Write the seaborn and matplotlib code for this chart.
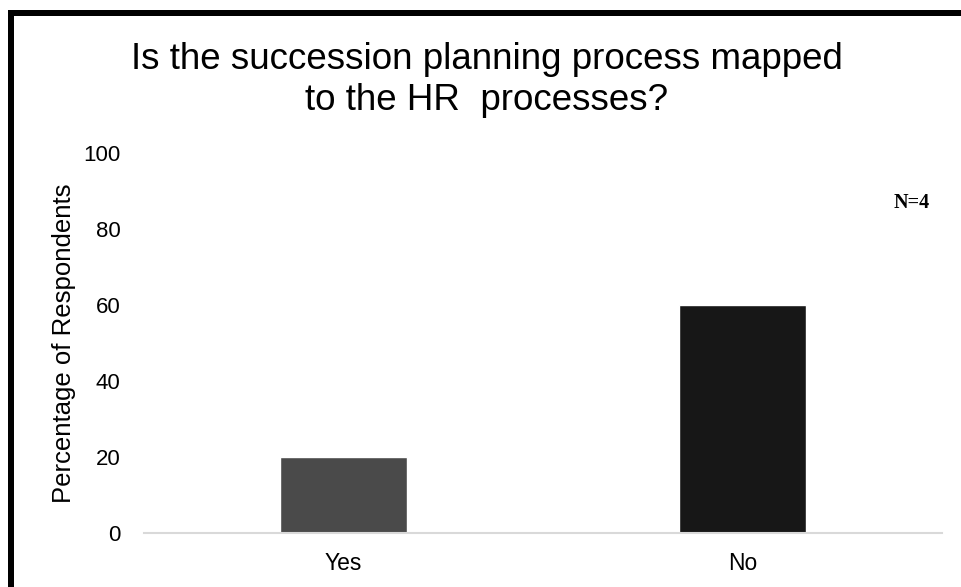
import matplotlib
matplotlib.use("Agg")
import matplotlib.pyplot as plt
from matplotlib.lines import Line2D
import seaborn as sns
import pandas as pd

# Survey answers and their share of respondents (%)
answers = ["Yes", "No"]
percentages = [20, 60]
bar_colors = ["#4a4a4a", "#171717"]
y_ticks = [0, 20, 40, 60, 80, 100]

title_text = "Is the succession planning process mapped\nto the HR  processes?"
y_label = "Percentage of Respondents"
sample_note = "N=4"

sns.set_theme(style="white")
plt.rcParams["font.family"] = ["Liberation Sans", "DejaVu Sans"]

df = pd.DataFrame({"answer": answers, "pct": percentages})

fig = plt.figure(figsize=(9.61, 5.87), dpi=100)
ax = fig.add_axes([144 / 961, 54 / 587, (942 - 144) / 961, (533 - 153) / 587])

sns.barplot(data=df, x="answer", y="pct", hue="answer", palette=bar_colors,
            width=0.316, legend=False, ax=ax, saturation=1)

ax.set_ylim(0, 100)
ax.set_xlim(-0.5, 1.5)
ax.set_yticks(y_ticks)
ax.set_yticklabels([str(t) for t in y_ticks])
ax.tick_params(axis="y", length=0, pad=17, labelsize=16, colors="black")
ax.tick_params(axis="x", length=0, pad=14, labelsize=16.5, colors="black")
ax.set_xlabel("")
ax.set_ylabel(y_label, fontsize=18.5, color="black")
ax.yaxis.set_label_coords((76 - 144) / (942 - 144), 0.5)

for side in ["top", "right", "left"]:
    ax.spines[side].set_visible(False)
ax.spines["bottom"].set_color("#d9d9d9")
ax.spines["bottom"].set_linewidth(1.5)

fig.text(487 / 961, 1 - 80 / 587, title_text, ha="center", va="center",
         fontsize=26.5, color="black", linespacing=1.2)

fig.text(912 / 961, 1 - 203 / 587, sample_note, ha="center", va="center",
         fontsize=14.5, fontweight="bold", color="black",
         family=["Liberation Serif", "DejaVu Serif"])

# Frame lines along the left and top edges
fig.add_artist(Line2D([11 / 961, 11 / 961], [0, 1 - 10 / 587],
                      transform=fig.transFigure, color="black",
                      linewidth=4.32, solid_capstyle="butt"))
fig.add_artist(Line2D([8 / 961, 1], [1 - 13 / 587, 1 - 13 / 587],
                      transform=fig.transFigure, color="black",
                      linewidth=4.32, solid_capstyle="butt"))

fig.savefig("out.png", dpi=100)
